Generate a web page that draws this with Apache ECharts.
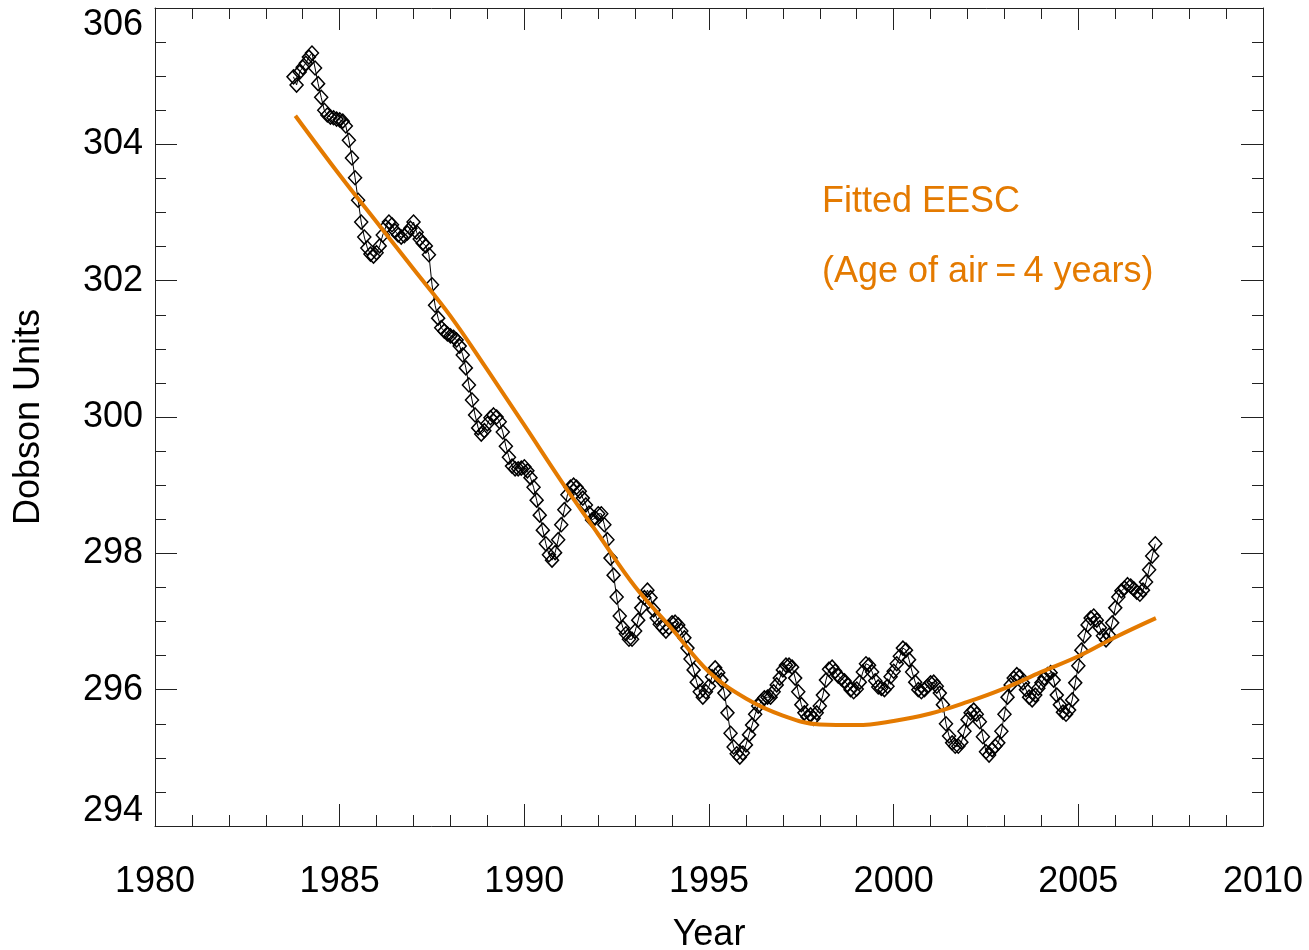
<!DOCTYPE html>
<html>
<head>
<meta charset="utf-8">
<title>Dobson Units vs Year</title>
<script src="https://cdn.jsdelivr.net/npm/echarts@6/dist/echarts.min.js"></script>
<style>
  html, body { margin: 0; padding: 0; background: #fff; }
  #chart { width: 1309px; height: 950px; }
</style>
</head>
<body>
<div id="chart"></div>
<script>
// Monthly ozone series (Dobson Units), starting October 1983
const startYear = 1983.75;
const ozone = [
  304.99,304.87,305.06,305.13,305.19,305.28,305.34,305.12,304.89,304.69,304.50,304.43,
  304.40,304.39,304.37,304.36,304.34,304.27,304.06,303.80,303.51,303.18,302.86,302.64,
  302.48,302.39,302.36,302.41,302.51,302.67,302.79,302.86,302.82,302.73,302.67,302.64,
  302.66,302.70,302.77,302.86,302.71,302.61,302.55,302.51,302.38,301.94,301.64,301.45,
  301.31,301.26,301.22,301.19,301.17,301.13,301.04,300.91,300.72,300.47,300.25,300.03,
  299.84,299.75,299.80,299.90,299.99,300.03,300.00,299.93,299.78,299.57,299.41,299.28,
  299.24,299.24,299.25,299.27,299.21,299.11,298.97,298.78,298.56,298.34,298.14,297.98,
  297.90,298.01,298.20,298.42,298.64,298.86,298.97,299.00,298.97,298.91,298.81,298.71,
  298.59,298.49,298.52,298.58,298.58,298.42,298.20,297.93,297.68,297.36,297.08,296.91,
  296.82,296.74,296.74,296.86,297.02,297.20,297.35,297.46,297.35,297.17,297.05,296.96,
  296.91,296.86,296.91,296.98,296.99,296.95,296.86,296.76,296.61,296.45,296.29,296.11,
  295.97,295.89,295.97,296.05,296.19,296.32,296.25,296.14,295.95,295.66,295.36,295.16,
  295.06,295.01,295.07,295.19,295.34,295.48,295.64,295.76,295.83,295.88,295.89,295.89,
  295.97,296.07,296.17,296.29,296.36,296.36,296.33,296.17,295.97,295.78,295.66,295.60,
  295.63,295.58,295.66,295.76,295.92,296.14,296.30,296.33,296.27,296.20,296.16,296.13,
  296.07,296.00,295.97,296.01,296.11,296.26,296.38,296.36,296.26,296.13,296.04,296.02,
  296.00,296.05,296.19,296.27,296.38,296.49,296.61,296.58,296.44,296.26,296.11,296.00,
  295.97,296.00,296.05,296.10,296.11,296.05,295.95,295.78,295.50,295.32,295.22,295.17,
  295.17,295.23,295.39,295.56,295.66,295.70,295.64,295.53,295.31,295.09,295.04,295.12,
  295.17,295.22,295.39,295.64,295.89,296.07,296.17,296.22,296.19,296.10,296.00,295.89,
  295.85,295.92,296.02,296.10,296.17,296.22,296.25,296.14,295.92,295.78,295.67,295.64,
  295.70,295.85,296.10,296.35,296.58,296.79,296.95,297.05,297.08,297.02,296.91,296.79,
  296.73,296.80,296.98,297.20,297.36,297.45,297.49,297.54,297.52,297.48,297.43,297.40,
  297.46,297.58,297.76,297.96,298.14
];

// Fitted EESC curve (age of air = 4 years)
const fitYears = [1983.8, 1985, 1986, 1987, 1988, 1989, 1990, 1991, 1992, 1993, 1994, 1995,
  1996, 1997, 1998, 1999, 2000, 2001, 2002, 2003, 2004, 2005, 2006, 2007.1];
const fitValues = [304.42, 303.55, 302.86, 302.17, 301.48, 300.69, 299.88, 299.06, 298.28, 297.51, 296.89, 296.26,
  295.87, 295.62, 295.49, 295.48, 295.54, 295.65, 295.82, 296.02, 296.26, 296.49, 296.77, 297.05];

// Annotation text (thin spaces widen the "=" like the plotting font does)
const annotationLines = ['Fitted EESC', '(Age of air\u2009=\u20094 years)'];

const FONT = '"Liberation Sans", Arial, Helvetica, sans-serif';
const ORANGE = '#E47A00';
const AXIS = '#222';
const Y_MIN = 294, Y_MAX = 306;

const ozoneData = ozone.map((v, i) => [startYear + i / 12, v]);
const fitData = fitYears.map((y, i) => [y, fitValues[i]]);

function xAxisCfg(pos, showLabels) {
  return {
    type: 'value', position: pos, min: 1980, max: 2010, interval: 5,
    axisLine: { show: true, onZero: false, lineStyle: { color: AXIS, width: 1 } },
    axisTick: { show: true, inside: true, length: 22, lineStyle: { color: AXIS, width: 1 } },
    minorTick: { show: true, splitNumber: 5, length: 11, lineStyle: { color: AXIS, width: 1 } },
    splitLine: { show: false },
    axisLabel: { show: showLabels, fontFamily: FONT, fontSize: 36, color: '#000', margin: 38,
      formatter: v => String(v) },
    name: showLabels ? 'Year' : '',
    nameLocation: 'middle', nameGap: 91,
    nameTextStyle: { fontFamily: FONT, fontSize: 36, color: '#000' }
  };
}
function yAxisCfg(pos, showLabels) {
  return {
    type: 'value', position: pos, min: Y_MIN, max: Y_MAX, interval: 2,
    axisLine: { show: true, onZero: false, lineStyle: { color: AXIS, width: 1 } },
    axisTick: { show: true, inside: true, length: 22, lineStyle: { color: AXIS, width: 1 } },
    minorTick: { show: true, splitNumber: 4, length: 11, lineStyle: { color: AXIS, width: 1 } },
    splitLine: { show: false },
    axisLabel: {
      show: showLabels, fontFamily: FONT, fontSize: 36, color: '#000', margin: 12,
      // end labels sit slightly inside the frame
      formatter: v => v === Y_MAX ? '{hi|' + v + '}' : v === Y_MIN ? '{lo|' + v + '}' : String(v),
      rich: {
        hi: { fontFamily: FONT, fontSize: 36, color: '#000', padding: [34, 0, 0, 0] },
        lo: { fontFamily: FONT, fontSize: 36, color: '#000', padding: [0, 0, 30, 0] }
      }
    },
    name: showLabels ? 'Dobson Units' : '',
    nameLocation: 'middle', nameGap: 108, nameRotate: 90,
    nameTextStyle: { fontFamily: FONT, fontSize: 36, color: '#000' }
  };
}

const chart = echarts.init(document.getElementById('chart'), null, { renderer: 'canvas' });
chart.setOption({
  animation: false,
  backgroundColor: '#fff',
  grid: { left: 155, top: 8, width: 1108, height: 818, containLabel: false, outerBoundsMode: 'none' },
  xAxis: [xAxisCfg('bottom', true), xAxisCfg('top', false)],
  yAxis: [yAxisCfg('left', true), yAxisCfg('right', false)],
  graphic: [
    { type: 'text', left: 822, top: 184, style: { text: annotationLines[0], font: '36px ' + FONT, fill: ORANGE } },
    { type: 'text', left: 822, top: 254, style: { text: annotationLines[1], font: '36px ' + FONT, fill: ORANGE } }
  ],
  series: [
    {
      name: 'Ozone', type: 'line', xAxisIndex: 0, yAxisIndex: 0,
      data: ozoneData,
      symbol: 'diamond', symbolSize: [13, 14],
      showAllSymbol: true,
      lineStyle: { color: '#000', width: 1 },
      itemStyle: { color: 'rgba(0,0,0,0)', borderColor: '#000', borderWidth: 1.5 },
      z: 2
    },
    {
      name: 'Fitted EESC', type: 'line', xAxisIndex: 0, yAxisIndex: 0,
      data: fitData, smooth: 0.4, showSymbol: false,
      lineStyle: { color: ORANGE, width: 4 },
      z: 3
    }
  ]
});
</script>
</body>
</html>
